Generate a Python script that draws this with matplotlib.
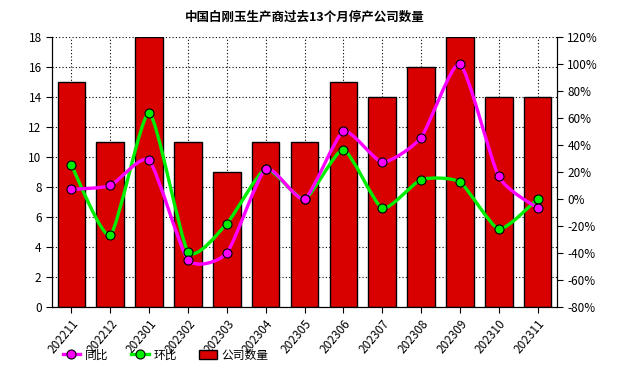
import matplotlib.pyplot as plt
import numpy as np
from matplotlib.path import Path
from matplotlib.patches import PathPatch, Patch
from matplotlib.lines import Line2D
from matplotlib.ticker import FuncFormatter

plt.rcParams['font.family'] = ['Noto Sans CJK SC', 'DejaVu Sans']

# 数据
months = ['202211', '202212', '202301', '202302', '202303', '202304', '202305',
          '202306', '202307', '202308', '202309', '202310', '202311']
companies = [15, 11, 18, 11, 9, 11, 11, 15, 14, 16, 18, 14, 14]
yoy = [7.1, 10.0, 28.6, -45.0, -40.0, 22.2, 0.0, 50.0, 27.3, 45.5, 100.0, 16.7, -6.7]   # 同比 %
mom = [25.0, -26.7, 63.6, -38.9, -18.2, 22.2, 0.0, 36.4, -6.7, 14.3, 12.5, -22.2, 0.0]  # 环比 %

bar_color = '#d90000'
yoy_color = '#ff00ff'
mom_color = '#00ee00'


def smooth_path(xs, ys, k=10.0):
    # curva suave (Catmull-Rom -> Bezier) passando pelos pontos
    pts = np.column_stack([xs, ys]).astype(float)
    verts = [pts[0]]
    codes = [Path.MOVETO]
    n = len(pts)
    for i in range(n - 1):
        p0 = pts[i - 1] if i > 0 else pts[i]
        p1 = pts[i]
        p2 = pts[i + 1]
        p3 = pts[i + 2] if i + 2 < n else pts[i + 1]
        c1 = p1 + (p2 - p0) / k
        c2 = p2 - (p3 - p1) / k
        verts += [c1, c2, p2]
        codes += [Path.CURVE4] * 3
    return Path(verts, codes)


fig = plt.figure(figsize=(6.24, 3.72), dpi=100)
ax = fig.add_axes([52 / 624, 1 - 307 / 372, (557 - 52) / 624, (307 - 37) / 372])

x = np.arange(len(months))
ax.bar(x, companies, width=0.71, color=bar_color, edgecolor='black', linewidth=1, zorder=2)
ax.set_xlim(-0.5, len(months) - 0.5)
ax.set_ylim(0, 18)
ax.set_yticks(range(0, 19, 2))
ax.set_xticks(x)
ax.set_xticklabels(months, rotation=50, ha='right', rotation_mode='anchor', fontsize=8.5)
ax.tick_params(axis='y', labelsize=8.5, length=4)
ax.tick_params(axis='x', length=4)
ax.grid(True, linestyle=(0, (1, 2)), color='black', linewidth=0.8)
ax.set_axisbelow(True)
ax.spines['top'].set_visible(False)

ax2 = ax.twinx()
ax2.set_ylim(-80, 120)
ax2.set_yticks(range(-80, 121, 20))
ax2.yaxis.set_major_formatter(FuncFormatter(lambda v, p: f'{int(v)}%'))
ax2.tick_params(axis='y', labelsize=8.5, length=4)
ax2.spines['top'].set_visible(False)

for vals, col in [(mom, mom_color), (yoy, yoy_color)]:
    ax2.add_patch(PathPatch(smooth_path(x, vals), facecolor='none', edgecolor=col,
                            linewidth=2.4, zorder=3))
    ax2.plot(x, vals, linestyle='none', marker='o', markersize=6.5,
             markerfacecolor=col, markeredgecolor='black', markeredgewidth=0.8, zorder=4)

ax.set_title('中国白刚玉生产商过去13个月停产公司数量', fontsize=9, fontweight='bold', pad=12)

handles = [
    Line2D([], [], color=yoy_color, linewidth=2.4, marker='o', markersize=6.5,
           markerfacecolor=yoy_color, markeredgecolor='black', markeredgewidth=0.8),
    Line2D([], [], color=mom_color, linewidth=2.4, marker='o', markersize=6.5,
           markerfacecolor=mom_color, markeredgecolor='black', markeredgewidth=0.8),
    Patch(facecolor=bar_color, edgecolor='black', linewidth=1),
]
fig.legend(handles, ['同比', '环比', '公司数量'], loc='center left',
           bbox_to_anchor=(52 / 624, 1 - 355 / 372), ncol=3, frameon=False,
           fontsize=8.5, handlelength=1.5, handletextpad=0.4, columnspacing=1.9)

fig.savefig('out.png', dpi=100)
